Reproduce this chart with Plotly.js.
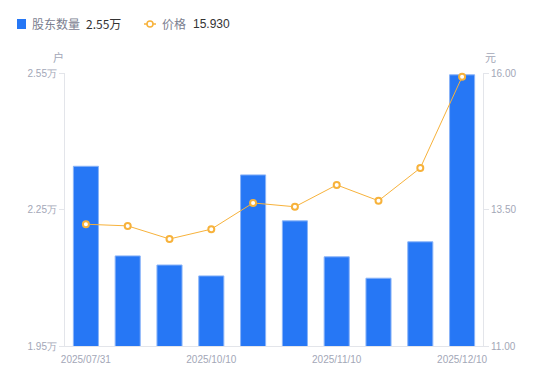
<!DOCTYPE html>
<html><head><meta charset="utf-8">
<script src="https://cdn.plot.ly/plotly-3.0.1.min.js"></script>
<style>html,body{margin:0;padding:0;background:#fff}#c{width:550px;height:381px}</style>
</head><body><div id="c"></div>
<script>
const dates = ["2025/07/31","2025/08/31","2025/09/30","2025/10/10","2025/10/20","2025/10/31","2025/11/10","2025/11/20","2025/11/30","2025/12/10"];
const holders = [2.345, 2.148, 2.128, 2.104, 2.326, 2.225, 2.146, 2.099, 2.179, 2.546];
const prices = [13.23, 13.20, 12.96, 13.14, 13.62, 13.55, 13.95, 13.66, 14.26, 15.93];
const xTicks = ["2025/07/31","2025/10/10","2025/11/10","2025/12/10"];
const leftTicks = [1.95, 2.25, 2.55];
const rightTicks = [11, 13.5, 16];

const tickFont = {family:"Liberation Sans, Arial, sans-serif", size:10, color:"#a3a7b7"};
const traces = [
 {type:"bar", x:dates, y:holders, name:"股东数量", yaxis:"y", width:0.6,
  marker:{color:"#2677f5", line:{color:"#8ab4f8", width:1}}, hoverinfo:"none"},
 {type:"scatter", mode:"lines+markers", x:dates, y:prices, name:"价格", yaxis:"y2",
  line:{color:"#f7b23b", width:1},
  marker:{size:6, color:"#ffffff", line:{color:"#f7b23b", width:2}}, hoverinfo:"none", cliponaxis:false}
];
const last = holders.length-1;
const L = 65, R = 483, T = 73, B = 346;
const W = R-L, H = B-T;
const px = x => (x-L)/W, py = y => (B-y)/H;
const layout = {
 width:550, height:381, showlegend:false,
 margin:{l:L, r:550-R, t:T, b:381-B, pad:0},
 paper_bgcolor:"#fff", plot_bgcolor:"#fff",
 xaxis:{type:"category", range:[-0.5, dates.length-0.5], tickvals:xTicks, ticktext:xTicks, tickfont:tickFont, automargin:false,
  showgrid:false, showline:true, linecolor:"#e3e5ea", linewidth:1, ticks:"outside", ticklen:4, tickcolor:"rgba(0,0,0,0)", zeroline:false, fixedrange:true},
 yaxis:{range:[1.95,2.55], tickvals:leftTicks, ticktext:leftTicks.map(v=>v.toFixed(2)+"万"), automargin:false,
  tickfont:tickFont, showgrid:false, showline:true, linecolor:"#e3e5ea", ticks:"outside", ticklen:5, tickcolor:"#e3e5ea", zeroline:false},
 yaxis2:{range:[11,16], overlaying:"y", side:"right", tickvals:rightTicks, ticktext:rightTicks.map(v=>v.toFixed(2)), automargin:false,
  tickfont:tickFont, showgrid:false, showline:true, linecolor:"#e3e5ea", ticks:"outside", ticklen:5, tickcolor:"#e3e5ea", zeroline:false},
 shapes:[
  {type:"rect", xref:"paper", yref:"paper", x0:px(17), x1:px(26), y0:py(29), y1:py(19),
   fillcolor:"#2677f5", line:{width:0}},
  {type:"line", xref:"paper", yref:"paper", x0:px(144), x1:px(156), y0:py(24), y1:py(24),
   line:{color:"#f7b23b", width:1.5}},
  {type:"circle", xref:"paper", yref:"paper", x0:px(147), x1:px(153), y0:py(27), y1:py(21),
   fillcolor:"#fff", line:{color:"#f7b23b", width:1.5}}
 ],
 annotations:[
  {xref:"paper", yref:"paper", x:px(30), y:py(24), xanchor:"left", yanchor:"middle", showarrow:false,
   text:"股东数量", font:{family:"Noto Sans CJK SC, sans-serif", size:12, color:"#7b8090"}},
  {xref:"paper", yref:"paper", x:px(84), y:py(24), xanchor:"left", yanchor:"middle", showarrow:false,
   text:holders[last].toFixed(2)+"万", font:{family:"Noto Sans CJK SC, sans-serif", size:12, color:"#333"}},
  {xref:"paper", yref:"paper", x:px(160), y:py(24), xanchor:"left", yanchor:"middle", showarrow:false,
   text:"价格", font:{family:"Noto Sans CJK SC, sans-serif", size:12, color:"#7b8090"}},
  {xref:"paper", yref:"paper", x:px(191), y:py(24), xanchor:"left", yanchor:"middle", showarrow:false,
   text:prices[last].toFixed(3), font:{family:"Liberation Sans, Arial, sans-serif", size:12, color:"#333"}},
  {xref:"paper", yref:"paper", x:px(58), y:py(57), xanchor:"center", yanchor:"middle", showarrow:false,
   text:"户", font:{family:"Noto Sans CJK SC, sans-serif", size:11, color:"#a3a7b7"}},
  {xref:"paper", yref:"paper", x:px(490), y:py(57), xanchor:"center", yanchor:"middle", showarrow:false,
   text:"元", font:{family:"Noto Sans CJK SC, sans-serif", size:11, color:"#a3a7b7"}}
 ]
};
Plotly.newPlot("c", traces, layout, {staticPlot:true, displayModeBar:false});
</script></body></html>
